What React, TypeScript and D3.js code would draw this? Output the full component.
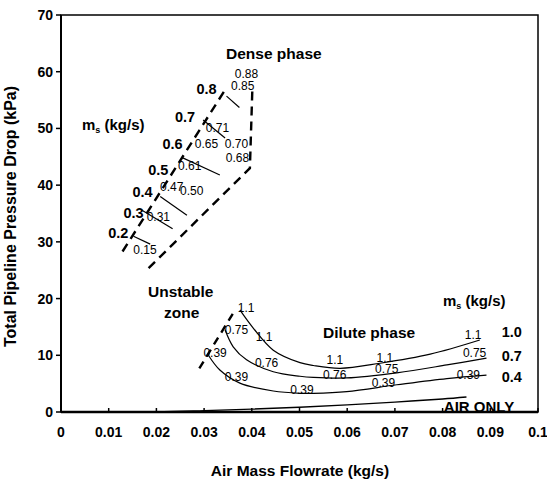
import React from "react";
import * as d3 from "d3";

const xTicks = [0, 0.01, 0.02, 0.03, 0.04, 0.05, 0.06, 0.07, 0.08, 0.09, 0.1];
const xTickLabels = ["0", "0.01", "0.02", "0.03", "0.04", "0.05", "0.06", "0.07", "0.08", "0.09", "0.1"];
const yTicks = [0, 10, 20, 30, 40, 50, 60, 70];

// Dilute phase curves (solids flow 1.0, 0.7, 0.4 kg/s)
const dilute10: [number, number][] = [
  [0.0375, 18.0], [0.0403, 14.8], [0.0445, 10.9], [0.0501, 8.7], [0.0529, 8.2], [0.0585, 7.7],
  [0.0669, 8.6], [0.0774, 10.2], [0.0878, 12.7],
];
const dilute07: [number, number][] = [
  [0.0344, 14.5], [0.0361, 11.5], [0.0389, 9.2], [0.0445, 7.1], [0.0501, 6.3], [0.0529, 6.1],
  [0.0599, 6.0], [0.0704, 6.9], [0.0809, 8.3], [0.0892, 9.5],
];
const dilute04: [number, number][] = [
  [0.0309, 10.0], [0.0333, 7.4], [0.0375, 5.1], [0.0445, 3.7], [0.0501, 3.3], [0.0529, 3.3],
  [0.0599, 3.6], [0.0704, 4.8], [0.0809, 5.9], [0.0892, 6.5],
];
const airOnly: [number, number][] = [
  [0.0, 0.0], [0.02, 0.05], [0.03, 0.25], [0.04, 0.5], [0.05, 0.85], [0.06, 1.25], [0.07, 1.75], [0.08, 2.3], [0.085, 2.65],
];
const unstableLine: [number, number][] = [[0.029, 7.7], [0.0365, 18.0]];

// Dense phase boundaries
const denseLeft: [number, number][] = [[0.0129, 28.3], [0.0344, 56.8]];
const denseRight: [number, number][] = [[0.0401, 56.5], [0.0396, 43.0], [0.0183, 25.3]];

// Dense phase short iso-lines
const denseSegments: [number, number][][] = [
  [[0.0347, 55.7], [0.0374, 53.7]],
  [[0.0298, 51.5], [0.0344, 48.3]],
  [[0.0253, 44.9], [0.0333, 41.8]],
  [[0.0208, 38.0], [0.0264, 34.7]],
  [[0.0169, 35.6], [0.0234, 32.3]],
  [[0.0152, 31.0], [0.0187, 29.6]],
];

// Point labels: [x, y, text]
const smallLabels: [number, number, string][] = [
  [0.0389, 59.6, "0.88"],
  [0.0381, 57.5, "0.85"],
  [0.0328, 50.2, "0.71"],
  [0.0305, 47.3, "0.65"],
  [0.0368, 47.3, "0.70"],
  [0.0370, 44.8, "0.68"],
  [0.0270, 43.4, "0.61"],
  [0.0232, 39.7, "0.47"],
  [0.0274, 39.0, "0.50"],
  [0.0204, 34.4, "0.31"],
  [0.0176, 28.7, "0.15"],
  [0.0388, 18.4, "1.1"],
  [0.0368, 14.6, "0.75"],
  [0.0426, 13.3, "1.1"],
  [0.0323, 10.5, "0.39"],
  [0.0431, 8.7, "0.76"],
  [0.0368, 6.3, "0.39"],
  [0.0574, 9.2, "1.1"],
  [0.0574, 6.5, "0.76"],
  [0.0679, 9.6, "1.1"],
  [0.0683, 7.7, "0.75"],
  [0.0676, 5.2, "0.39"],
  [0.0505, 3.9, "0.39"],
  [0.0864, 13.6, "1.1"],
  [0.0867, 10.5, "0.75"],
  [0.0854, 6.6, "0.39"],
];
const boldLabels: [number, number, string][] = [
  [0.0305, 57.0, "0.8"],
  [0.0260, 52.1, "0.7"],
  [0.0234, 47.3, "0.6"],
  [0.0204, 42.7, "0.5"],
  [0.0171, 38.8, "0.4"],
  [0.0152, 35.1, "0.3"],
  [0.0120, 31.6, "0.2"],
  [0.0945, 14.1, "1.0"],
  [0.0945, 9.9, "0.7"],
  [0.0945, 6.2, "0.4"],
];

const W = 547;
const H = 480;
const left = 61;
const right = 538;
const top = 15;
const bottom = 412;

export default function App() {
  const x = d3.scaleLinear().domain([0, 0.1]).range([left, right]);
  const y = d3.scaleLinear().domain([0, 70]).range([bottom, top]);
  const curve = d3.line<[number, number]>().x((d) => x(d[0])).y((d) => y(d[1])).curve(d3.curveCatmullRom.alpha(0.5));
  const straight = d3.line<[number, number]>().x((d) => x(d[0])).y((d) => y(d[1]));
  const font = "'Liberation Sans', Arial, sans-serif";

  return (
    <svg width={W} height={H} style={{ position: "absolute", left: 0, top: 0, background: "#fff" }} fontFamily={font}>
      <rect x={0} y={0} width={W} height={H} fill="#fff" />
      {/* frame */}
      <rect x={left} y={top} width={right - left} height={bottom - top} fill="none" stroke="#000" strokeWidth={1.5} />
      <line x1={left} x2={right} y1={bottom} y2={bottom} stroke="#000" strokeWidth={2.5} />
      <line x1={left} x2={left} y1={top} y2={bottom} stroke="#000" strokeWidth={2} />
      {/* y ticks */}
      {yTicks.map((t) => (
        <g key={"y" + t}>
          <line x1={left - 5} x2={left} y1={y(t)} y2={y(t)} stroke="#000" strokeWidth={1.5} />
          <text x={left - 8} y={y(t)} dy="0.36em" textAnchor="end" fontSize={14} fontWeight="bold">{t}</text>
        </g>
      ))}
      {/* x ticks */}
      {xTicks.map((t, i) => (
        <g key={"x" + t}>
          <line x1={x(t)} x2={x(t)} y1={bottom} y2={bottom - 4} stroke="#000" strokeWidth={1.5} />
          <text x={x(t)} y={437} textAnchor="middle" fontSize={14} fontWeight="bold">{xTickLabels[i]}</text>
        </g>
      ))}
      {/* axis titles */}
      <text x={300} y={475.5} textAnchor="middle" fontSize={15.5} fontWeight="bold">Air Mass Flowrate (kg/s)</text>
      <text transform={`translate(16,${(top + bottom) / 2 + 3}) rotate(-90)`} textAnchor="middle" fontSize={16} fontWeight="bold">
        Total Pipeline Pressure Drop (kPa)
      </text>

      {/* dilute curves */}
      {[dilute10, dilute07, dilute04].map((c, i) => (
        <path key={"d" + i} d={curve(c) || ""} fill="none" stroke="#000" strokeWidth={1.2} />
      ))}
      <path d={curve(airOnly) || ""} fill="none" stroke="#000" strokeWidth={1.4} />
      <path d={straight(unstableLine) || ""} fill="none" stroke="#000" strokeWidth={2.4} strokeDasharray="8,6" />

      {/* dense boundaries */}
      <path d={straight(denseLeft) || ""} fill="none" stroke="#000" strokeWidth={2.4} strokeDasharray="9,6" />
      <path d={straight(denseRight) || ""} fill="none" stroke="#000" strokeWidth={2.4} strokeDasharray="9,6" />
      {denseSegments.map((s, i) => (
        <path key={"s" + i} d={straight(s) || ""} fill="none" stroke="#000" strokeWidth={1.2} />
      ))}

      {smallLabels.map(([lx, ly, t], i) => (
        <text key={"sl" + i} x={x(lx)} y={y(ly)} dy="0.36em" textAnchor="middle" fontSize={12}>{t}</text>
      ))}
      {boldLabels.map(([lx, ly, t], i) => (
        <text key={"bl" + i} x={x(lx)} y={y(ly)} dy="0.36em" textAnchor="middle" fontSize={14.5} fontWeight="bold">{t}</text>
      ))}

      {/* annotations */}
      <text x={226} y={58.5} fontSize={15.5} fontWeight="bold">Dense phase</text>
      <text x={82} y={129.5} fontSize={15} fontWeight="bold">
        m<tspan fontSize={9} dy={3}>s</tspan><tspan dy={-3}> (kg/s)</tspan>
      </text>
      <text x={148} y={296.5} fontSize={15.5} fontWeight="bold">Unstable</text>
      <text x={164} y={318} fontSize={15.5} fontWeight="bold">zone</text>
      <text x={323} y={337.5} fontSize={15.5} fontWeight="bold">Dilute phase</text>
      <text x={443} y={306} fontSize={15} fontWeight="bold">
        m<tspan fontSize={9} dy={3}>s</tspan><tspan dy={-3}> (kg/s)</tspan>
      </text>
      <text x={479} y={411.5} textAnchor="middle" fontSize={15} fontWeight="bold">AIR ONLY</text>
    </svg>
  );
}
